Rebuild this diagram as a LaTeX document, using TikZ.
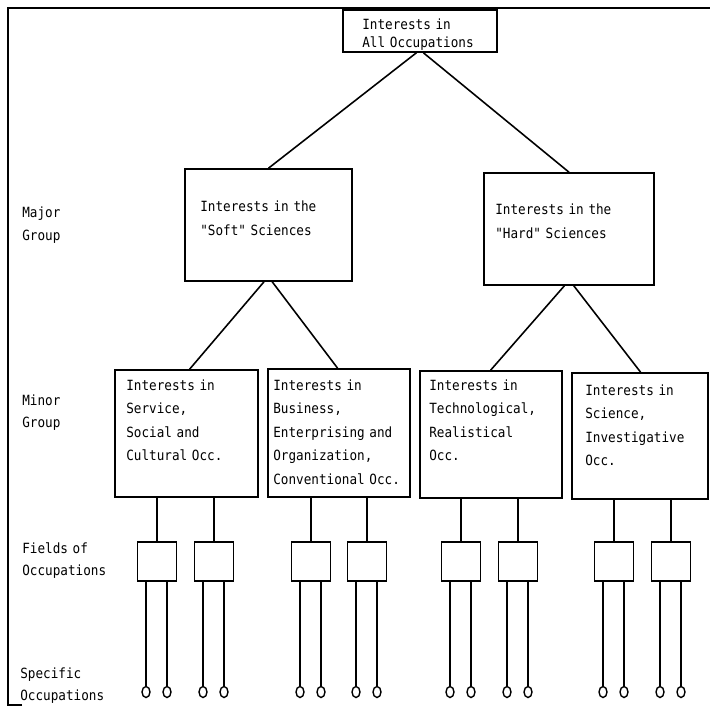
\documentclass[tikz,border=0pt]{standalone}
\usepackage{fontspec}
\setmonofont{DejaVu Sans Mono}[FakeStretch=0.9]
\usetikzlibrary{shapes.geometric}
\newcommand{\scanfont}[1]{\ttfamily\fontsize{8}{#1}\selectfont}

\begin{document}
\begin{tikzpicture}[scale=0.2]
                \tikzstyle{every node}+=[inner sep=0pt]
                \tikzstyle{box}=[draw=black, line width=0.9pt, rectangle]
                \tikzstyle{field}=[box, minimum width=0.78cm, minimum height=0.78cm]
                \tikzstyle{occ}=[draw=black, line width=0.8pt, ellipse, minimum width=0.16cm, minimum height=0.22cm]
                \tikzstyle{txt}=[anchor=base west, text width=3cm, font=\scanfont{13.4}]
                \tikzstyle{link}=[black, line width=0.9pt]
                \useasboundingbox (0,0) rectangle (71,-70.7);
                % frame
                \draw [black, line width=1.2pt] (2.2,-70.5) -- (0.8,-70.5) -- (0.8,-0.8) -- (71,-0.8);
                % boxes
                \node [box, minimum width=3.08cm, minimum height=0.84cm] (all) at (42.0,-3.1) {};
                \node [box, minimum width=3.34cm, minimum height=2.24cm] (soft) at (26.85,-22.5) {};
                \node [box, minimum width=3.4cm, minimum height=2.24cm] (hard) at (56.9,-22.9) {};
                \node [box, minimum width=2.86cm, minimum height=2.54cm] (min1) at (18.65,-43.35) {};
                \node [box, minimum width=2.84cm, minimum height=2.56cm] (min2) at (33.9,-43.3) {};
                \node [box, minimum width=2.84cm, minimum height=2.54cm] (min3) at (49.1,-43.45) {};
                \node [box, minimum width=2.72cm, minimum height=2.52cm] (min4) at (64.0,-43.6) {};
                % texts
                \node [txt, font=\scanfont{10.2}] (alltxt) at (36.2,-3.0) {Interests in\\All Occupations};
                \node [txt] (softtxt) at (20.0,-21.2) {Interests in the\\"Soft" Sciences};
                \node [txt] (hardtxt) at (49.5,-21.5) {Interests in the\\"Hard" Sciences};
                \node [txt] (min1txt) at (12.6,-39.0) {Interests in\\Service,\\Social and\\Cultural Occ.};
                \node [txt] (min2txt) at (27.3,-39.0) {Interests in\\Business,\\Enterprising and\\Organization,\\Conventional Occ.};
                \node [txt] (min3txt) at (42.9,-39.0) {Interests in\\Technological,\\Realistical\\Occ.};
                \node [txt] (min4txt) at (58.5,-39.5) {Interests in\\Science,\\Investigative\\Occ.};
                % level labels
                \node [txt, font=\scanfont{13}] (major) at (2.2,-21.8) {Major\\Group};
                \node [txt, font=\scanfont{13}] (minor) at (2.2,-40.5) {Minor\\Group};
                \node [txt, font=\scanfont{13}] (fields) at (2.2,-55.3) {Fields of\\Occupations};
                \node [txt, font=\scanfont{13}] (specific) at (2.0,-67.8) {Specific\\Occupations};
                % tree
                \draw [link] ([xshift=-0.36cm]all.south) -- (soft.north);
                \draw [link] ([xshift=0.34cm]all.south) -- (hard.north);
                \draw [link] ([xshift=-0.45cm]soft.south) -- ([xshift=0.31cm]min1.north);
                \draw [link] ([xshift=0.37cm]soft.south) -- ([xshift=-0.14cm]min2.north);
                \draw [link] ([xshift=-0.46cm]hard.south) -- ([xshift=-0.04cm]min3.north);
                \draw [link] ([xshift=0.48cm]hard.south) -- ([xshift=0.06cm]min4.north);
                % fields and specific occupations
                \foreach \f/\x/\m in {fa/15.7/min1, fb/21.4/min1, fc/31.1/min2, fd/36.7/min2,
                                      fe/46.1/min3, ff/51.8/min3, fg/61.4/min4, fh/67.1/min4} {
                    \node [field] (\f) at (\x,-56.15) {};
                    \node [occ] (\f1) at (\x-1.1,-69.2) {};
                    \node [occ] (\f2) at (\x+1.0,-69.2) {};
                    \draw [link] (\f.north) -- (\f.north |- \m.south);
                    \draw [link] (\f1.north) -- (\f1.north |- \f.south);
                    \draw [link] (\f2.north) -- (\f2.north |- \f.south);
                }
              \end{tikzpicture}
\end{document}
